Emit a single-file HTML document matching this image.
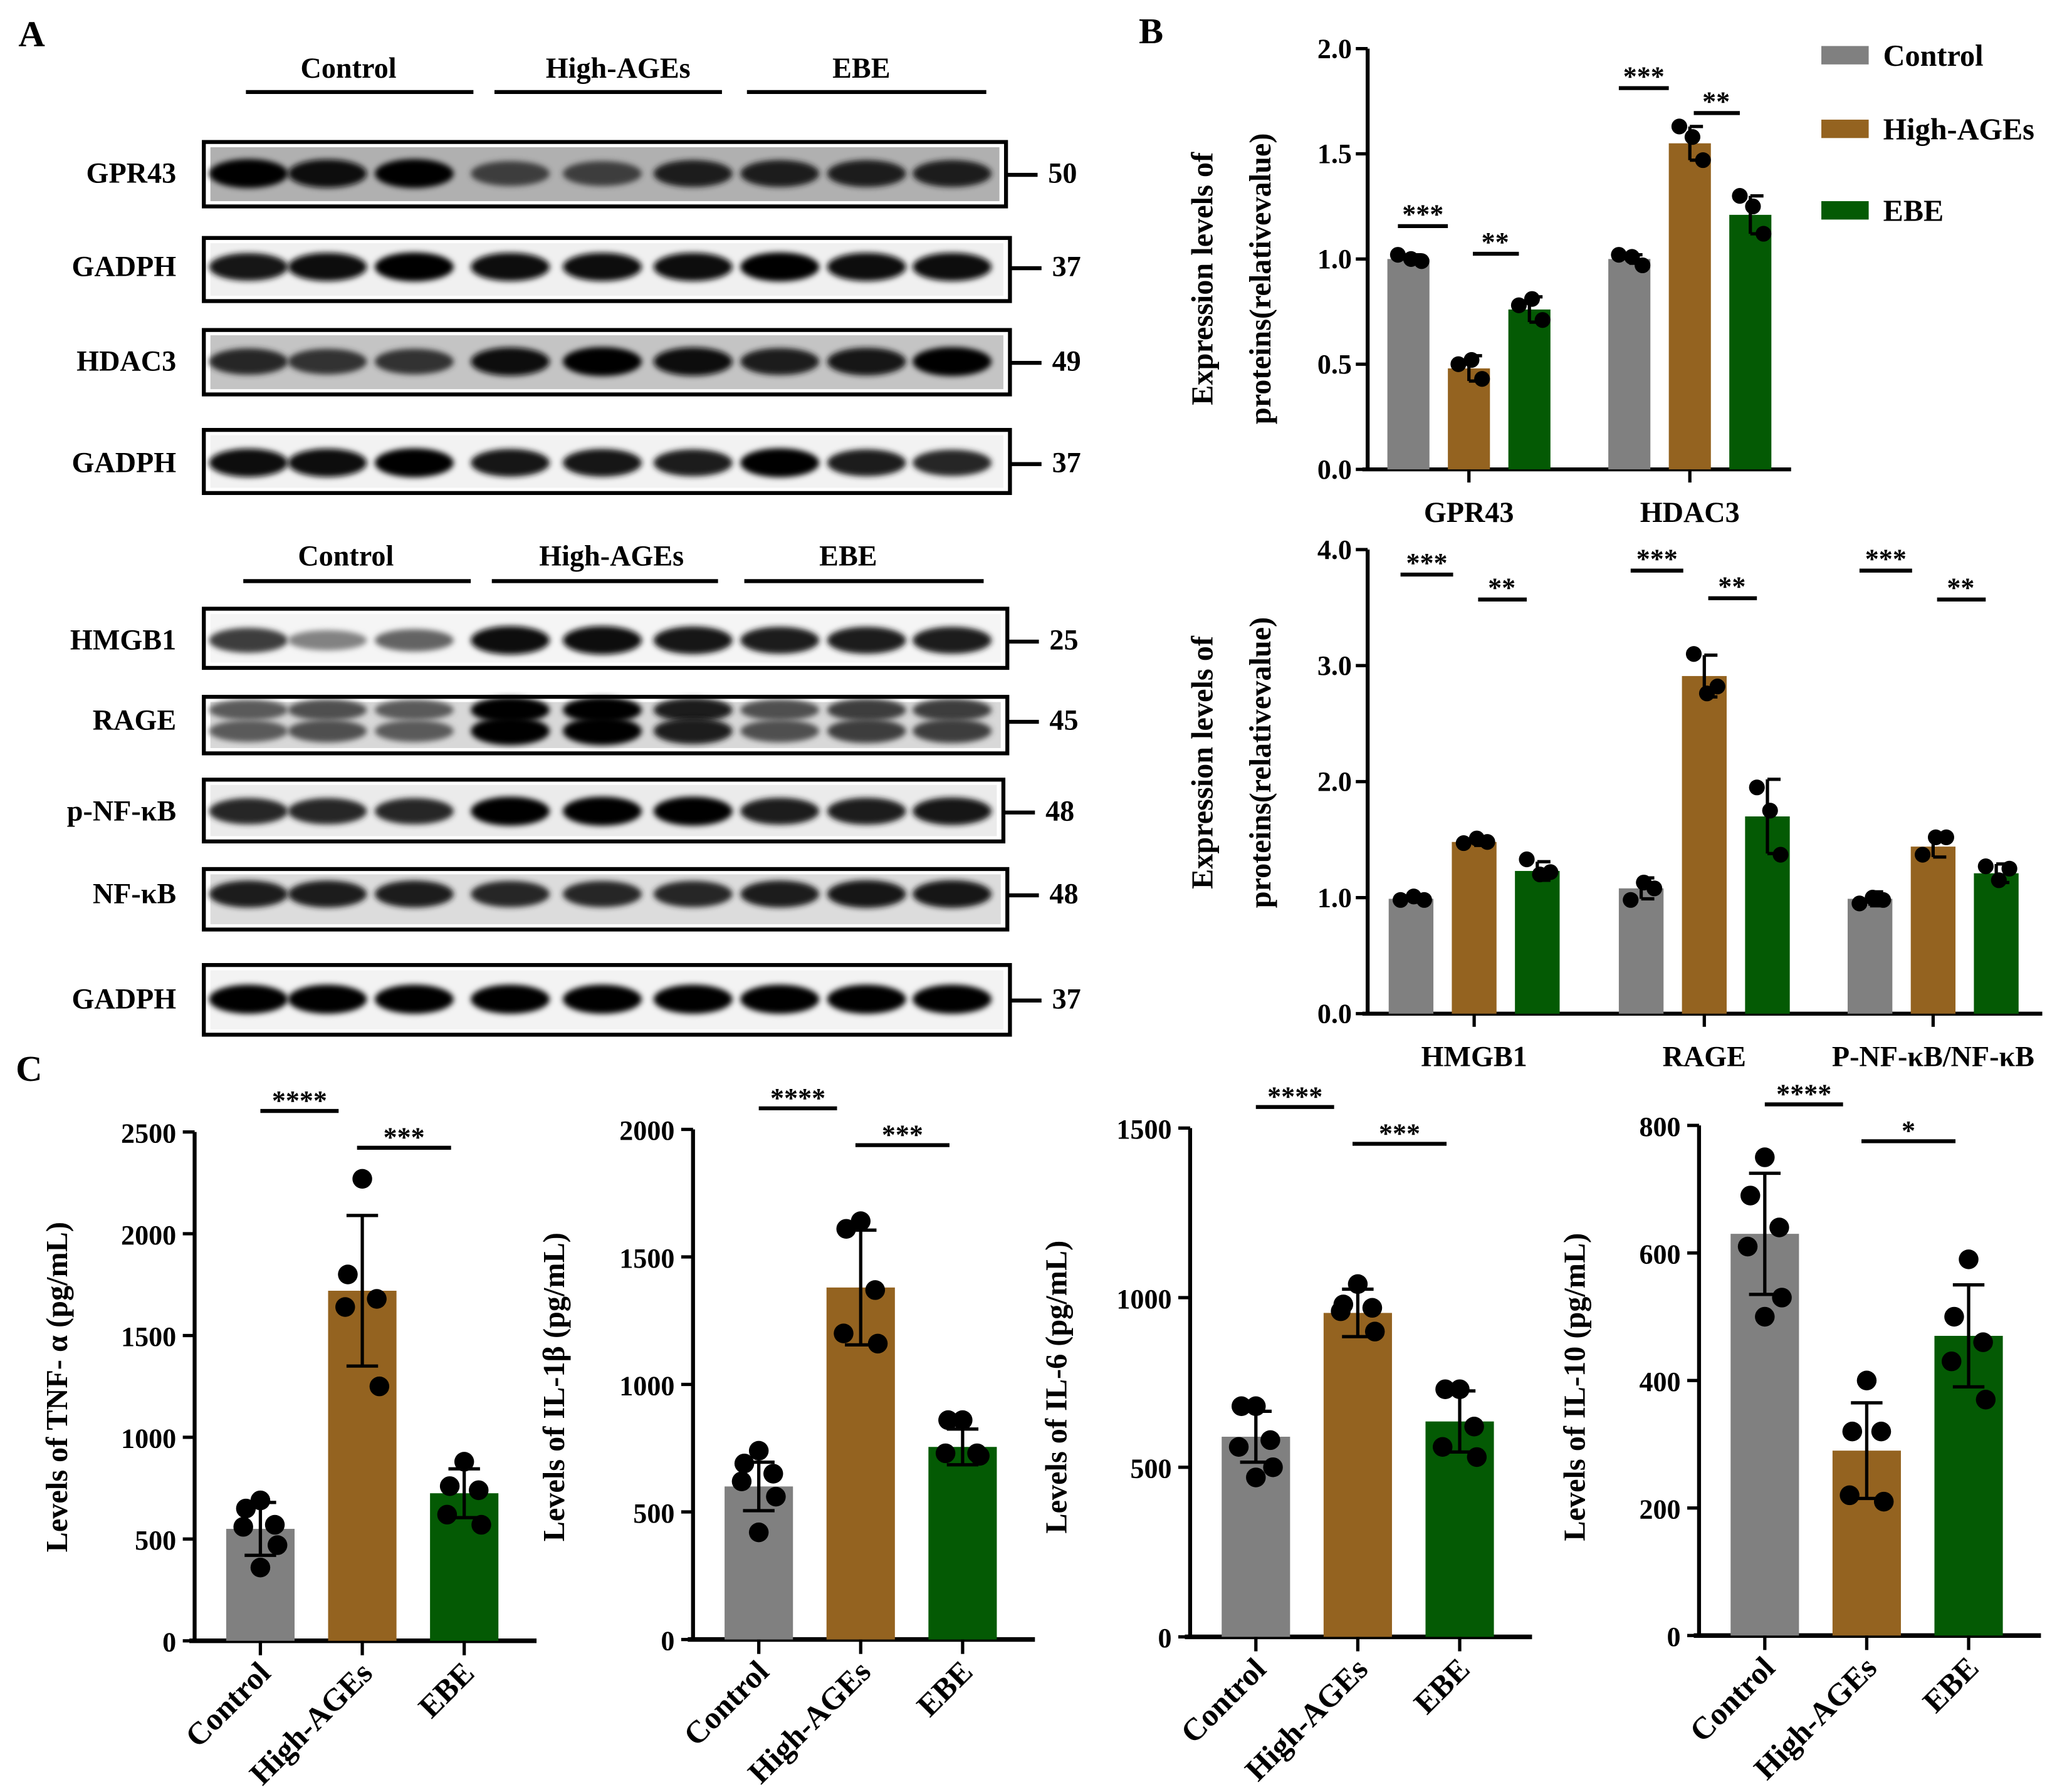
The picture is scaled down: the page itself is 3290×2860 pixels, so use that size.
<!DOCTYPE html>
<html><head><meta charset="utf-8">
<style>
html,body{margin:0;padding:0;background:#fff;}
svg{display:block;}
text{font-family:"Liberation Serif",serif;font-weight:bold;fill:#000;}
</style></head>
<body>
<svg id="fig" xmlns="http://www.w3.org/2000/svg" width="3290" height="2860" viewBox="0 0 1568 1363" preserveAspectRatio="none">
<defs>
<filter id="blur2" x="-20%" y="-100%" width="140%" height="300%"><feGaussianBlur stdDeviation="2.2"/></filter>
</defs>
<text x="14" y="35" font-size="28">A</text>
<text x="866" y="33" font-size="28">B</text>
<text x="12" y="822" font-size="28">C</text>
<g id="blots"></g>
<g id="chartB1"></g>
<g id="chartB2"></g>
<g id="chartC"></g>
</svg>
<script>
// ===== Data =====
const groups = ["Control", "High-AGEs", "EBE"];
const colors = ["#808080", "#946320", "#045a04"];

// Panel B top
const b1Categories = ["GPR43", "HDAC3"];
const b1Means = [[1.0, 0.48, 0.76], [1.0, 1.55, 1.21]];
const b1Errors = [[0.02, 0.06, 0.06], [0.02, 0.08, 0.09]];
const b1Points = [[[1.02, 1.0, 0.99], [0.5, 0.52, 0.43], [0.78, 0.81, 0.71]],
                  [[1.02, 1.01, 0.97], [1.63, 1.58, 1.47], [1.3, 1.25, 1.12]]];
const b1Ticks = [0, 0.5, 1.0, 1.5, 2.0];

// Panel B bottom
const b2Categories = ["HMGB1", "RAGE", "P-NF-κB/NF-κB"];
const b2Means = [[0.99, 1.48, 1.23], [1.08, 2.91, 1.70], [0.99, 1.44, 1.21]];
const b2Errors = [[0.03, 0.03, 0.08], [0.09, 0.18, 0.32], [0.06, 0.09, 0.08]];
const b2Points = [[[0.98, 1.01, 0.98], [1.47, 1.51, 1.48], [1.33, 1.2, 1.22]],
                  [[0.98, 1.13, 1.08], [3.1, 2.76, 2.82], [1.95, 1.75, 1.37]],
                  [[0.95, 1.0, 0.98], [1.37, 1.52, 1.52], [1.27, 1.15, 1.25]]];
const b2Ticks = [0, 1.0, 2.0, 3.0, 4.0];

// Panel C
const cTitles = ["Levels of TNF- α (pg/mL)", "Levels of IL-1β (pg/mL)", "Levels of IL-6 (pg/mL)", "Levels of IL-10 (pg/mL)"];
const cMax = [2500, 2000, 1500, 800];
const cTicks = [[0, 500, 1000, 1500, 2000, 2500], [0, 500, 1000, 1500, 2000], [0, 500, 1000, 1500], [0, 200, 400, 600, 800]];
const cMeans = [[550, 1720, 725], [600, 1380, 755], [590, 955, 635], [630, 290, 470]];
const cErrors = [[130, 370, 120], [95, 225, 70], [75, 70, 90], [95, 75, 80]];
const cPoints = [
  [[690, 650, 570, 560, 470, 360], [2270, 1800, 1680, 1640, 1250], [880, 760, 740, 620, 570]],
  [[740, 690, 650, 620, 560, 420], [1640, 1610, 1370, 1200, 1160], [860, 860, 730, 730, 720]],
  [[680, 680, 580, 560, 500, 470], [1040, 980, 970, 960, 900], [730, 730, 620, 560, 530]],
  [[750, 690, 640, 610, 530, 500], [400, 320, 320, 220, 210], [590, 500, 460, 430, 370]]
];
const cSig = [["****", "***"], ["****", "***"], ["****", "***"], ["****", "*"]];

// Western blot band intensities (0..1)
const blotLabels = ["GPR43", "GADPH", "HDAC3", "GADPH", "HMGB1", "RAGE", "p-NF-κB", "NF-κB", "GADPH"];
const blotMW = ["50", "37", "49", "37", "25", "45", "48", "48", "37"];
const blotIntensity = [
  [1, 0.95, 1, 0.7, 0.7, 0.85, 0.85, 0.85, 0.85],
  [0.9, 0.95, 1, 0.95, 0.95, 0.95, 1, 0.95, 0.95],
  [0.8, 0.75, 0.75, 0.95, 1, 0.95, 0.85, 0.9, 1],
  [0.95, 0.95, 1, 0.9, 0.9, 0.85, 1, 0.85, 0.8],
  [0.7, 0.35, 0.5, 0.95, 0.95, 0.9, 0.85, 0.85, 0.85],
  [0.55, 0.6, 0.55, 1, 1, 0.85, 0.6, 0.7, 0.7],
  [0.8, 0.8, 0.8, 1, 1, 1, 0.85, 0.85, 0.9],
  [0.85, 0.85, 0.85, 0.8, 0.8, 0.8, 0.85, 0.9, 0.9],
  [1, 1, 1, 1, 1, 1, 1, 1, 1]
];

// ===== Helpers =====
const NS = "http://www.w3.org/2000/svg";
function mk(parent, tag, attrs, txt) {
  const e = document.createElementNS(NS, tag);
  for (const k in attrs) e.setAttribute(k, attrs[k]);
  if (txt !== undefined) e.textContent = txt;
  parent.appendChild(e);
  return e;
}

// ===== Blots =====
(function () {
  const g = document.getElementById("blots");
  const lanes = [189, 249, 315, 388, 458, 527, 593, 659, 724];
  const boxes = [[108, 157, 765], [181, 229, 768], [251, 300, 768], [327, 375, 768],
                 [463, 508, 766], [530, 573, 766], [593, 640, 763], [661, 707, 766], [734, 787, 768]];
  const bandY = [132, 203, 275, 352, 487, 548, 617, 680, 760];
  const bg = ["#b0b0b0", "#f0f0f0", "#c4c4c4", "#f2f2f2", "#f5f5f5", "#d8d8d8", "#ebebeb", "#dcdcdc", "#f3f3f3"];
  const headers = [[52, 70, [[265, 187, 360], [470, 376, 549], [655, 568, 750]]],
                   [423, 442, [[263, 185, 358], [465, 374, 546], [645, 566, 748]]]];
  headers.forEach((h) => {
    h[2].forEach((c, i) => {
      const t = mk(g, "text", { x: c[0], y: h[0] + 7, "font-size": 22, "text-anchor": "middle" }, groups[i]);
      
      
      const l = mk(g, "line", { x1: c[1], x2: c[2], y1: h[1], y2: h[1], stroke: "#000", "stroke-width": 3 });
      
      
    });
  });
  boxes.forEach((b, r) => {
    const row = mk(g, "g", {});
    
    
    mk(row, "rect", { x: 160, y: b[0] + 4, width: b[2] - 165, height: b[1] - b[0] - 8, fill: bg[r] });
    const isRage = r === 5;
    lanes.forEach((lx, i) => {
      const v = blotIntensity[r][i];
      const h = isRage ? 9 : 13;
      const c = Math.round(200 * (1 - v));
      const col = "rgb(" + c + "," + c + "," + c + ")";
      if (isRage) {
        mk(row, "ellipse", { cx: lx, cy: bandY[r] - 8, rx: 30, ry: h * (0.6 + 0.5 * v), fill: col, filter: "url(#blur2)" });
        mk(row, "ellipse", { cx: lx, cy: bandY[r] + 8, rx: 30, ry: h * (0.6 + 0.6 * v), fill: col, filter: "url(#blur2)" });
      } else {
        mk(row, "ellipse", { cx: lx, cy: bandY[r], rx: 30, ry: h * (0.45 + 0.4 * v), fill: col, filter: "url(#blur2)" });
      }
    });
    const box = mk(row, "rect", { x: 155, y: b[0], width: b[2] - 155, height: b[1] - b[0], fill: "none", stroke: "#000", "stroke-width": 3 });
    
    
    const lab = mk(row, "text", { x: 134, y: bandY[r] + 7, "font-size": 22, "text-anchor": "end" }, blotLabels[r]);
    
    
    mk(row, "line", { x1: b[2], x2: b[2] + 24, y1: bandY[r] + 1, y2: bandY[r] + 1, stroke: "#000", "stroke-width": 3 });
    const mw = mk(row, "text", { x: b[2] + 32, y: bandY[r] + 7, "font-size": 22 }, blotMW[r]);
    
    
  });
})();

// ===== Grouped bar chart (panel B) =====
function groupedChart(gid, cats, means, errs, pts, ticks, cfg) {
  const g = document.getElementById(gid);
  const yMax = ticks[ticks.length - 1];
  const yScale = v => cfg.y0 - (v / yMax) * (cfg.y0 - cfg.yTop);
  const xCenter = ci => cfg.cx[ci];
  const barX = (ci, k) => xCenter(ci) + (k - 1) * cfg.gap;
  const ya = mk(g, "line", { x1: cfg.ax, x2: cfg.ax, y1: cfg.yTop, y2: cfg.y0 + 1, stroke: "#000", "stroke-width": 3 });
  
  
  const xa = mk(g, "line", { x1: cfg.ax - 4, x2: cfg.xEnd, y1: cfg.y0, y2: cfg.y0, stroke: "#000", "stroke-width": 3 });
  
  
  ticks.forEach(t => {
    const y = yScale(t);
    mk(g, "line", { x1: cfg.ax - 9, x2: cfg.ax, y1: y, y2: y, stroke: "#000", "stroke-width": 2.5 });
    const tl = mk(g, "text", { x: cfg.ax - 12, y: y + 7, "font-size": 21, "text-anchor": "end" }, t.toFixed(1));
    
    
  });
  cats.forEach((c, ci) => {
    mk(g, "line", { x1: xCenter(ci), x2: xCenter(ci), y1: cfg.y0, y2: cfg.y0 + 10, stroke: "#000", "stroke-width": 2.5 });
    const cl = mk(g, "text", { x: xCenter(ci), y: cfg.y0 + 40, "font-size": 22, "text-anchor": "middle" }, c);
    
    
    for (let k = 0; k < 3; k++) {
      const bx = barX(ci, k), m = means[ci][k], e = errs[ci][k];
      const bar = mk(g, "rect", { x: bx - cfg.bw / 2, y: yScale(m), width: cfg.bw, height: cfg.y0 - yScale(m), fill: colors[k] });
      
      
      mk(g, "line", { x1: bx, x2: bx, y1: yScale(m - e), y2: yScale(m + e), stroke: "#000", "stroke-width": 2.5 });
      mk(g, "line", { x1: bx, x2: bx + 10, y1: yScale(m + e), y2: yScale(m + e), stroke: "#000", "stroke-width": 2.5 });
      mk(g, "line", { x1: bx, x2: bx + 10, y1: yScale(m - e), y2: yScale(m - e), stroke: "#000", "stroke-width": 2.5 });
      const offs = [-8, 2, 10];
      pts[ci][k].forEach((p, pi) => {
        const dot = mk(g, "circle", { cx: bx + offs[pi], cy: yScale(p), r: 6, fill: "#000" });
        
        
      });
    }
    const ln1 = mk(g, "line", { x1: barX(ci, 0) - 8, x2: barX(ci, 1) - 16, y1: cfg.sigY[ci][0], y2: cfg.sigY[ci][0], stroke: "#000", "stroke-width": 3 });
    
    
    const st1 = mk(g, "text", { x: (barX(ci, 0) + barX(ci, 1)) / 2 - 12, y: cfg.sigY[ci][0] - 2, "font-size": 21, "text-anchor": "middle", "font-weight": "normal" }, cfg.sig[0]);
    
    
    const ln2 = mk(g, "line", { x1: barX(ci, 1) + 3, x2: barX(ci, 2) - 8, y1: cfg.sigY[ci][1], y2: cfg.sigY[ci][1], stroke: "#000", "stroke-width": 3 });
    
    
    const st2 = mk(g, "text", { x: (barX(ci, 1) + barX(ci, 2)) / 2 - 3, y: cfg.sigY[ci][1] - 2, "font-size": 21, "text-anchor": "middle", "font-weight": "normal" }, cfg.sig[1]);
    
    
  });
  const yt = mk(g, "text", { transform: "translate(" + cfg.titleX + "," + cfg.titleY + ") rotate(-90)", "font-size": 23, "text-anchor": "middle" });
  
  
  mk(yt, "tspan", { x: 0, dy: 0 }, "Expression levels of");
  mk(yt, "tspan", { x: 0, dy: 44 }, "proteins(relativevalue)");
}

groupedChart("chartB1", b1Categories, b1Means, b1Errors, b1Points, b1Ticks, {
  ax: 1040, y0: 357, yTop: 37, xEnd: 1362, cx: [1117, 1285], gap: 46, bw: 32,
  sig: ["***", "**"], sigY: [[172, 193], [67, 86]], titleX: 922, titleY: 212
});
groupedChart("chartB2", b2Categories, b2Means, b2Errors, b2Points, b2Ticks, {
  ax: 1040, y0: 771, yTop: 418, xEnd: 1553, cx: [1121, 1296, 1470], gap: 48, bw: 34,
  sig: ["***", "**"], sigY: [[437, 456], [434, 455], [434, 456]], titleX: 922, titleY: 580
});

// Legend
(function () {
  const g = document.getElementById("chartB1");
  const ys = [42, 98, 160];
  groups.forEach((n, i) => {
    const le = mk(g, "g", {});
    
    
    mk(le, "rect", { x: 1385, y: ys[i] - 7, width: 36, height: 14, fill: colors[i] });
    mk(le, "text", { x: 1432, y: ys[i] + 8, "font-size": 23 }, n);
  });
})();

// ===== Panel C charts =====
(function () {
  const g = document.getElementById("chartC");
  const axX = [148, 527, 905, 1292];
  const y0s = [1248, 1247, 1245, 1244];
  const yTops = [861, 859, 858, 856];
  const titleX = [44, 422, 804, 1198];
  for (let c = 0; c < 4; c++) {
    const cg = mk(g, "g", {});
    
    
    const ax = axX[c], y0 = y0s[c], yTop = yTops[c];
    const yScale = v => y0 - (v / cMax[c]) * (y0 - yTop);
    const xPos = k => ax + 50 + k * 77.5;
    mk(cg, "line", { x1: ax, x2: ax, y1: yTop, y2: y0 + 1, stroke: "#000", "stroke-width": 3 });
    mk(cg, "line", { x1: ax - 4, x2: ax + 260, y1: y0, y2: y0, stroke: "#000", "stroke-width": 3.5 });
    cTicks[c].forEach(t => {
      const y = yScale(t);
      mk(cg, "line", { x1: ax - 9, x2: ax, y1: y, y2: y, stroke: "#000", "stroke-width": 2.5 });
      const tl = mk(cg, "text", { x: ax - 14, y: y + 8, "font-size": 21, "text-anchor": "end" }, t);
      
      
    });
    for (let k = 0; k < 3; k++) {
      const bx = xPos(k), m = cMeans[c][k], e = cErrors[c][k];
      const bar = mk(cg, "rect", { x: bx - 26, y: yScale(m), width: 52, height: y0 - yScale(m), fill: colors[k] });
      
      
      mk(cg, "line", { x1: bx, x2: bx, y1: y0, y2: y0 + 11, stroke: "#000", "stroke-width": 2.5 });
      mk(cg, "line", { x1: bx, x2: bx, y1: yScale(m - e), y2: yScale(m + e), stroke: "#000", "stroke-width": 2.5 });
      mk(cg, "line", { x1: bx - 12, x2: bx + 12, y1: yScale(m + e), y2: yScale(m + e), stroke: "#000", "stroke-width": 2.5 });
      mk(cg, "line", { x1: bx - 12, x2: bx + 12, y1: yScale(m - e), y2: yScale(m - e), stroke: "#000", "stroke-width": 2.5 });
      const offs = [0, -11, 11, -13, 13, 0];
      cPoints[c][k].forEach((p, pi) => {
        const dot = mk(cg, "circle", { cx: bx + offs[pi], cy: yScale(p), r: 7.5, fill: "#000" });
        
        
      });
      const xl = mk(cg, "text", { transform: "translate(" + (bx + 9) + "," + (y0 + 26) + ") rotate(-45)", "font-size": 24, "text-anchor": "end" }, groups[k]);
      
      
    }
    const sy1 = yTop - 16, sy2 = yTop + 12;
    const l1 = mk(cg, "line", { x1: xPos(0), x2: xPos(1) - 18, y1: sy1, y2: sy1, stroke: "#000", "stroke-width": 3 });
    
    
    const s1 = mk(cg, "text", { x: (xPos(0) + xPos(1) - 18) / 2, y: sy1 - 1, "font-size": 21, "text-anchor": "middle", "font-weight": "normal" }, cSig[c][0]);
    
    
    const l2 = mk(cg, "line", { x1: xPos(1) - 4, x2: xPos(2) - 10, y1: sy2, y2: sy2, stroke: "#000", "stroke-width": 3 });
    
    
    const s2 = mk(cg, "text", { x: (xPos(1) + xPos(2)) / 2 - 7, y: sy2 - 1, "font-size": 21, "text-anchor": "middle", "font-weight": "normal" }, cSig[c][1]);
    
    
    const yt = mk(cg, "text", { transform: "translate(" + (titleX[c] + 7) + ",1055) rotate(-90)", "font-size": 23, "text-anchor": "middle" }, cTitles[c]);
    
    
  }
})();
</script>
</body></html>
